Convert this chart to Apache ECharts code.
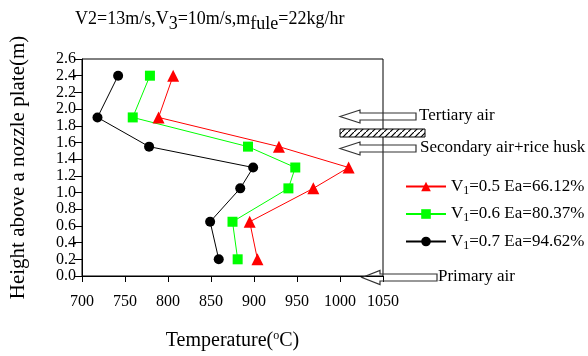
<!DOCTYPE html>
<html>
<head>
<meta charset="utf-8">
<script src="https://cdn.jsdelivr.net/npm/echarts@6/dist/echarts.min.js"></script>
<style>
  html, body { margin: 0; padding: 0; background: #fff; }
  #chart { width: 588px; height: 356px; }
</style>
</head>
<body>
<div id="chart"></div>
<script>
  // heights (m) where temperatures were measured
  var heights = [0.2, 0.65, 1.05, 1.3, 1.55, 1.9, 2.4];
  // temperatures (C)
  var tempV05 = [904, 895, 969, 1010, 929, 789, 806];
  var tempV06 = [881, 875, 940, 948, 893, 759, 779];
  var tempV07 = [859, 849, 884, 899, 778, 718, 742];
  var seriesNames = ['V1=0.5 Ea=66.12%', 'V1=0.6 Ea=80.37%', 'V1=0.7 Ea=94.62%'];
  var legendLabels = ['V{sub|1}=0.5 Ea=66.12%', 'V{sub|1}=0.6 Ea=80.37%', 'V{sub|1}=0.7 Ea=94.62%'];

  var serif = '"Liberation Serif", "DejaVu Serif", serif';

  function pairs(temps) {
    return temps.map(function (t, i) { return [t, heights[i]]; });
  }

  // hatch pattern for the fuel feed bar
  var hatch = document.createElement('canvas');
  hatch.width = 6; hatch.height = 6;
  var hc = hatch.getContext('2d');
  hc.fillStyle = '#fff';
  hc.fillRect(0, 0, 6, 6);
  hc.strokeStyle = '#000';
  hc.lineWidth = 1.2;
  hc.beginPath();
  hc.moveTo(-1, 7); hc.lineTo(7, -1);
  hc.stroke();

  function arrow(tipX, y, headX, endX, headH, shaftH) {
    return {
      type: 'polygon',
      shape: {
        points: [
          [tipX, y], [headX, y - headH], [headX, y - shaftH], [endX, y - shaftH],
          [endX, y + shaftH], [headX, y + shaftH], [headX, y + headH]
        ]
      },
      style: { fill: 'none', stroke: '#333', lineWidth: 1.2 },
      z: 10
    };
  }

  var chart = echarts.init(document.getElementById('chart'));
  var options = {
    animation: false,
    title: {
      text: 'V2=13m/s,V{sub|3}=10m/s,m{sub|fule}=22kg/hr',
      left: 70,
      top: 1,
      textStyle: {
        fontFamily: serif,
        fontSize: 18,
        fontWeight: 'normal',
        color: '#000',
        rich: {
          sub: { fontFamily: serif, fontSize: 18, color: '#000', padding: [9, 0, 0, 0] }
        }
      }
    },
    grid: {
      left: 80,
      right: 205,
      top: 59,
      bottom: 78,
      show: true,
      borderColor: '#000',
      borderWidth: 1,
      backgroundColor: 'transparent'
    },
    legend: {
      orient: 'vertical',
      left: 400,
      top: 173,
      itemWidth: 40,
      itemHeight: 12,
      itemGap: 9,
      data: seriesNames,
      formatter: function (name) {
        return legendLabels[seriesNames.indexOf(name)];
      },
      textStyle: {
        fontFamily: serif,
        fontSize: 17,
        color: '#000',
        rich: {
          sub: { fontFamily: serif, fontSize: 12, color: '#000', padding: [8, 0, 0, 0] }
        }
      }
    },
    xAxis: {
      type: 'value',
      min: 700,
      max: 1050,
      interval: 50,
      name: 'Temperature({sup|o}C)',
      nameLocation: 'middle',
      nameGap: 54,
      nameTextStyle: {
        fontFamily: serif,
        fontSize: 20,
        color: '#000',
        rich: {
          sup: { fontFamily: serif, fontSize: 12, color: '#000', padding: [0, 0, 10, 0] }
        }
      },
      axisLine: { show: true, lineStyle: { color: '#000', width: 1 } },
      axisTick: { show: true, inside: false, length: 6, lineStyle: { color: '#000' } },
      axisLabel: {
        fontFamily: serif, fontSize: 16, color: '#000', margin: 18,
        formatter: function (v) { return String(v); }
      },
      splitLine: { show: false }
    },
    yAxis: {
      type: 'value',
      min: 0,
      max: 2.6,
      interval: 0.2,
      name: 'Height above a nozzle plate(m)',
      nameLocation: 'middle',
      nameRotate: 90,
      nameGap: 53,
      nameTextStyle: { fontFamily: serif, fontSize: 21, color: '#000' },
      axisLine: { show: true, lineStyle: { color: '#000', width: 1 } },
      axisTick: { show: true, inside: false, length: 8, lineStyle: { color: '#000' } },
      axisLabel: {
        fontFamily: serif, fontSize: 16, color: '#000', margin: 6,
        formatter: function (v) { return v.toFixed(1); }
      },
      splitLine: { show: false }
    },
    series: [
      {
        name: seriesNames[0],
        type: 'line',
        data: pairs(tempV05),
        symbol: 'triangle',
        symbolSize: 12,
        lineStyle: { color: '#ff0000', width: 1 },
        itemStyle: { color: '#ff0000' }
      },
      {
        name: seriesNames[1],
        type: 'line',
        data: pairs(tempV06),
        symbol: 'rect',
        symbolSize: 10,
        lineStyle: { color: '#00ff00', width: 1 },
        itemStyle: { color: '#00ff00' }
      },
      {
        name: seriesNames[2],
        type: 'line',
        data: pairs(tempV07),
        symbol: 'circle',
        symbolSize: 10,
        lineStyle: { color: '#000', width: 1 },
        itemStyle: { color: '#000' }
      }
    ],
    graphic: [
      arrow(340, 116.5, 360, 416, 6.5, 3.5),
      {
        type: 'rect',
        shape: { x: 340, y: 129, width: 85, height: 8 },
        style: { fill: { image: hatch, repeat: 'repeat' }, stroke: '#000', lineWidth: 1 },
        z: 10
      },
      arrow(340, 148.5, 360, 416, 6.5, 3.5),
      arrow(362, 277.5, 380, 437, 7, 3.5),
      {
        type: 'text', left: 419, top: 107,
        style: { text: 'Tertiary air', font: '17px ' + serif, fill: '#000' }
      },
      {
        type: 'text', left: 420, top: 139,
        style: { text: 'Secondary air+rice husk', font: '17px ' + serif, fill: '#000' }
      },
      {
        type: 'text', left: 438, top: 268,
        style: { text: 'Primary air', font: '17px ' + serif, fill: '#000' }
      }
    ]
  };
  chart.setOption(options);
</script>
</body>
</html>
